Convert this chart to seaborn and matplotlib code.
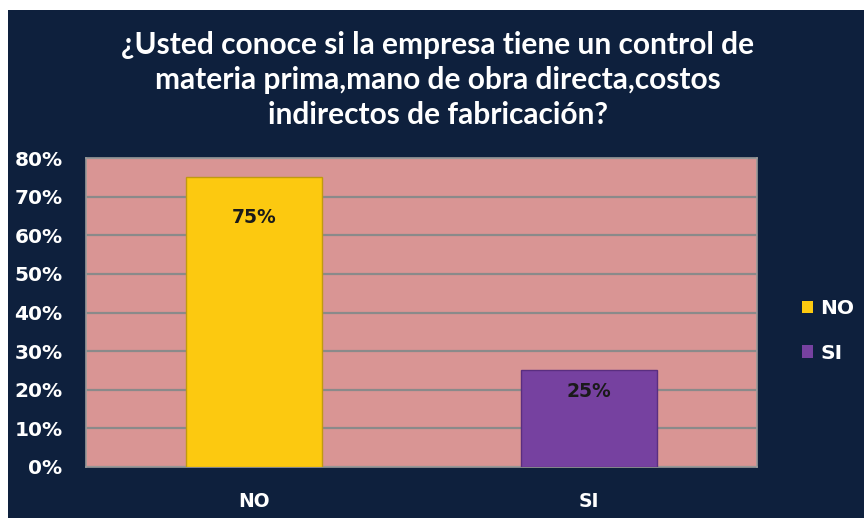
import matplotlib
matplotlib.use("Agg")
import matplotlib.pyplot as plt
import matplotlib.patches as mpatches
import seaborn as sns
import pandas as pd

categories = ["NO", "SI"]
values = [0.75, 0.25]
value_labels = ["75%", "25%"]
yticks = [0, 0.1, 0.2, 0.3, 0.4, 0.5, 0.6, 0.7, 0.8]
ytick_labels = ["0%", "10%", "20%", "30%", "40%", "50%", "60%", "70%", "80%"]
title = "¿Usted conoce si la empresa tiene un control de\nmateria prima,mano de obra directa,costos\nindirectos de fabricación?"

navy = "#0E203D"
pink = "#D99594"
colors = {"NO": "#FCC910", "SI": "#7641A0"}
edge_colors = {"NO": "#C09A10", "SI": "#5A2E80"}

sns.set_theme(style="white")
plt.rcParams["font.family"] = ["DejaVu Sans"]

df = pd.DataFrame({"cat": categories, "val": values})

fig = plt.figure(figsize=(8.64, 5.18), dpi=100, facecolor="white")
fig.patches.append(mpatches.Rectangle((8/864, 0), 1, 1 - 10/518, transform=fig.transFigure,
                                      facecolor=navy, edgecolor="none", zorder=-10))
ax = fig.add_axes([86/864, 1 - 467/518, (757 - 86)/864, (467 - 158)/518])
ax.set_facecolor(pink)

sns.barplot(data=df, x="cat", y="val", hue="cat", palette=colors, width=0.405,
            saturation=1, dodge=False, legend=False, ax=ax, linewidth=1.0, zorder=3)
for p, c in zip(ax.patches, categories):
    p.set_edgecolor(edge_colors[c])

ax.set_ylim(0, 0.8)
ax.set_xlim(-0.5, 1.5)
ax.set_yticks(yticks)
ax.set_yticklabels(ytick_labels)
ax.yaxis.grid(True, color="#8A8A8A", linewidth=1.6, zorder=1)
ax.set_axisbelow(True)
ax.set_xlabel("")
ax.set_ylabel("")
ax.tick_params(axis="y", colors="white", labelsize=14.5, length=0, pad=17)
ax.tick_params(axis="x", colors="white", labelsize=13.5, length=0, pad=18)
for lbl in ax.get_yticklabels() + ax.get_xticklabels():
    lbl.set_fontweight("bold")
for s in ax.spines.values():
    s.set_color("#9A9A9A")
    s.set_linewidth(1.2)

offsets = [-40, -21]
for i, (v, t, off) in enumerate(zip(values, value_labels, offsets)):
    ax.annotate(t, xy=(i, v), xytext=(0, off), textcoords="offset pixels",
                ha="center", va="center", fontsize=13.5, fontweight="bold", color="#1A1A1A", zorder=5)

handles = [mpatches.Patch(facecolor=colors[c], edgecolor="none", label=c) for c in categories]
leg = fig.legend(handles=handles, loc="center left", bbox_to_anchor=(784/864, 1 - 331/518),
                 frameon=False, fontsize=14.5, handlelength=0.55, handleheight=0.55,
                 handletextpad=0.35, labelspacing=1.25, labelcolor="white")
for t in leg.get_texts():
    t.set_fontweight("bold")

fig.text(438/864, 1 - 80/518, title, ha="center", va="center", color="white",
         fontsize=21.5, fontweight="bold", linespacing=1.32, family=["Lato", "DejaVu Sans"])

fig.savefig("out.png", dpi=100, facecolor=fig.get_facecolor())
